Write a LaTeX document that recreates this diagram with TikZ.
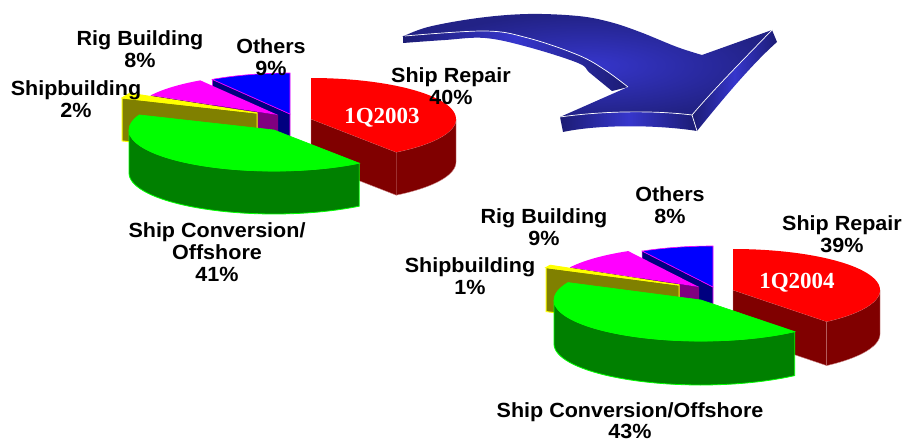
\documentclass[tikz,border=0pt]{standalone}
\usepackage{fontspec}
\newfontfamily\labfont{Liberation Sans}[FakeStretch=1.05]
\newfontfamily\qfont{Liberation Serif}
\definecolor{cRed}{HTML}{FF0000}
\definecolor{cRedD}{HTML}{800000}
\definecolor{cRedL}{HTML}{D08A8A}
\definecolor{cGrn}{HTML}{00FF00}
\definecolor{cGrnD}{HTML}{008000}
\definecolor{cYel}{HTML}{FFFF00}
\definecolor{cYelD}{HTML}{808000}
\definecolor{cMag}{HTML}{FF00FF}
\definecolor{cMagD}{HTML}{800080}
\definecolor{cBlu}{HTML}{0000FF}
\definecolor{cBluD}{HTML}{000080}
\definecolor{arDark}{HTML}{1C1C74}
\definecolor{arMid}{HTML}{3636CC}
\definecolor{arOut}{HTML}{222286}
\def\pieRx{145}\def\pieRy{41}\def\pieH{43}
% top face of a slice: centre x, centre y, start angle, end angle, style
\newcommand{\pieTop}[5]{%
  \path[#5] (#1,#2) -- plot[domain=#3:#4, samples=48] ({#1+\pieRx*cos(\x)},{#2-\pieRy*sin(\x)}) -- cycle;}
% outer (curved) side of a slice
\newcommand{\pieSide}[5]{%
  \path[#5] plot[domain=#3:#4, samples=40] ({#1+\pieRx*cos(\x)},{#2-\pieRy*sin(\x)})
    -- plot[domain=#4:#3, samples=40] ({#1+\pieRx*cos(\x)},{#2-\pieRy*sin(\x)+\pieH}) -- cycle;}
% radial cut face of a slice: centre x, centre y, angle, style
\newcommand{\pieFace}[4]{%
  \path[#4] (#1,#2) -- ({#1+\pieRx*cos(#3)},{#2-\pieRy*sin(#3)})
    -- ({#1+\pieRx*cos(#3)},{#2-\pieRy*sin(#3)+\pieH}) -- ({#1},{#2+\pieH}) -- cycle;}
\tikzset{
  lbl/.style={font={\labfont\bfseries\fontsize{20.5}{22}\selectfont}, align=center, inner sep=0pt, anchor=north, text=black},
  qlbl/.style={font={\qfont\bfseries\fontsize{23}{24}\selectfont}, inner sep=0pt, anchor=north, text=white},
  redface/.style={fill=cRedD, draw=cRedL, line width=0.4pt},
  redtop/.style={fill=cRed},
  grnside/.style={fill=cGrnD, draw=cGrn, line width=0.8pt},
  grntop/.style={fill=cGrn, draw=cGrn, line width=0.6pt},
  yelface/.style={fill=cYelD, draw=cYel, line width=1pt},
  yeltop/.style={fill=cYel, draw=cYel, line width=1pt},
  magface/.style={fill=cMagD},
  magtop/.style={fill=cMag},
  bluface/.style={fill=cBluD, draw=cMag, line width=0.6pt},
  blutop/.style={fill=cBlu, draw=cMag, line width=0.6pt},
  arband/.style={left color=arDark, right color=arDark, middle color=arMid},
  artop/.style={inner color=arMid, outer color=arOut},
  aredge/.style={draw=white, line width=0.7pt, line join=round},
}
\begin{document}
\begin{tikzpicture}[x=1pt, y=-1pt]
\useasboundingbox (0,0) rectangle (904,444);
\fill[white] (0,0) rectangle (904,444);

% ---------------- arrow ----------------
\path[arband] plot[smooth, tension=0.6] coordinates {(403,36) (485,31) (528,38) (578,55) (605,70) (628,87)}
  -- (612,91) -- plot[smooth, tension=0.6] coordinates {(612,91) (590,73) (578,63) (528,47) (485,38) (445,40) (403,43)} -- cycle;
\path[arband] (560,117) .. controls (610,110) and (660,111) .. (692,115) -- (697,131)
  .. controls (660,125) and (600,124) .. (563,132) -- cycle;
\path[arband] (692,115) .. controls (715,88) and (745,58) .. (772,30) -- (777,42)
  .. controls (752,64) and (722,100) .. (697,131) -- cycle;
\path[artop] plot[smooth, tension=0.6] coordinates {(402,37) (428,27) (478,18) (528,14) (578,16) (610,22) (640,32) (677,47) (702,55)}
  -- (772,30) .. controls (745,58) and (715,88) .. (692,115)
  .. controls (660,111) and (610,110) .. (560,117) -- (628,87)
  -- plot[smooth, tension=0.6] coordinates {(628,87) (605,70) (578,55) (528,38) (485,31) (405,36)} -- cycle;
\draw[aredge] plot[smooth, tension=0.6] coordinates {(405,36) (485,31) (528,38) (578,55) (605,70) (628,87)};
\draw[aredge] (560,117) .. controls (610,110) and (660,111) .. (692,115)
  .. controls (715,88) and (745,58) .. (772,30);
\draw[aredge] (692,115) -- (697,131);

% ---------------- pie 1 (1Q2003) ----------------
\def\pieRx{145}\def\pieRy{41}\def\pieH{43}
\pieFace{290}{114}{122.4}{bluface}
\pieTop{290}{114}{90}{122.4}{blutop}
\pieFace{278}{115}{151.2}{magface}
\pieTop{278}{115}{122.4}{151.2}{magtop}
\pieFace{257}{113}{158.4}{yelface}
\pieTop{257}{113}{151.2}{158.4}{yeltop}
\pieFace{311}{119}{-54}{redface}
\pieSide{311}{119}{-54}{0}{redface}
\pieTop{311}{119}{-54}{90}{redtop}
\pieSide{274}{130}{180}{306}{grnside}
\pieTop{274}{130}{158.4}{306}{grntop}

% ---------------- pie 2 (1Q2004) ----------------
\def\pieRx{147}\def\pieRy{41}\def\pieH{44}
\pieFace{713}{287}{118.8}{bluface}
\pieTop{713}{287}{90}{118.8}{blutop}
\pieFace{699}{287}{151.2}{magface}
\pieTop{699}{287}{118.8}{151.2}{magtop}
\pieFace{679}{285}{154.8}{yelface}
\pieTop{679}{285}{151.2}{154.8}{yeltop}
\pieFace{733}{290}{-50.4}{redface}
\pieSide{733}{290}{-50.4}{0}{redface}
\pieTop{733}{290}{-50.4}{90}{redtop}
\pieSide{701}{300}{180}{309.6}{grnside}
\pieTop{701}{300}{154.8}{309.6}{grntop}

% ---------------- labels ----------------
\node[lbl] (rig1) at (140,30) {Rig Building\\8\%};
\node[lbl] (oth1) at (271,38) {Others\\9\%};
\node[lbl] (shb1) at (76,80) {Shipbuilding\\2\%};
\node[lbl] (rep1) at (451,67) {Ship Repair\\40\%};
\node[lbl] (con1) at (217,222) {Ship Conversion/\\Offshore\\41\%};
\node[qlbl] (yr1) at (382,108) {1Q2003};

\node[lbl] (oth2) at (670,186) {Others\\8\%};
\node[lbl] (rig2) at (544,208) {Rig Building\\9\%};
\node[lbl] (shb2) at (470,257) {Shipbuilding\\1\%};
\node[lbl] (rep2) at (842,215) {Ship Repair\\39\%};
\node[lbl, font={\labfont\bfseries\fontsize{20.5}{21.5}\selectfont}] (con2) at (630,402) {Ship Conversion/Offshore\\43\%};
\node[qlbl] (yr2) at (797,273) {1Q2004};
\end{tikzpicture}
\end{document}
